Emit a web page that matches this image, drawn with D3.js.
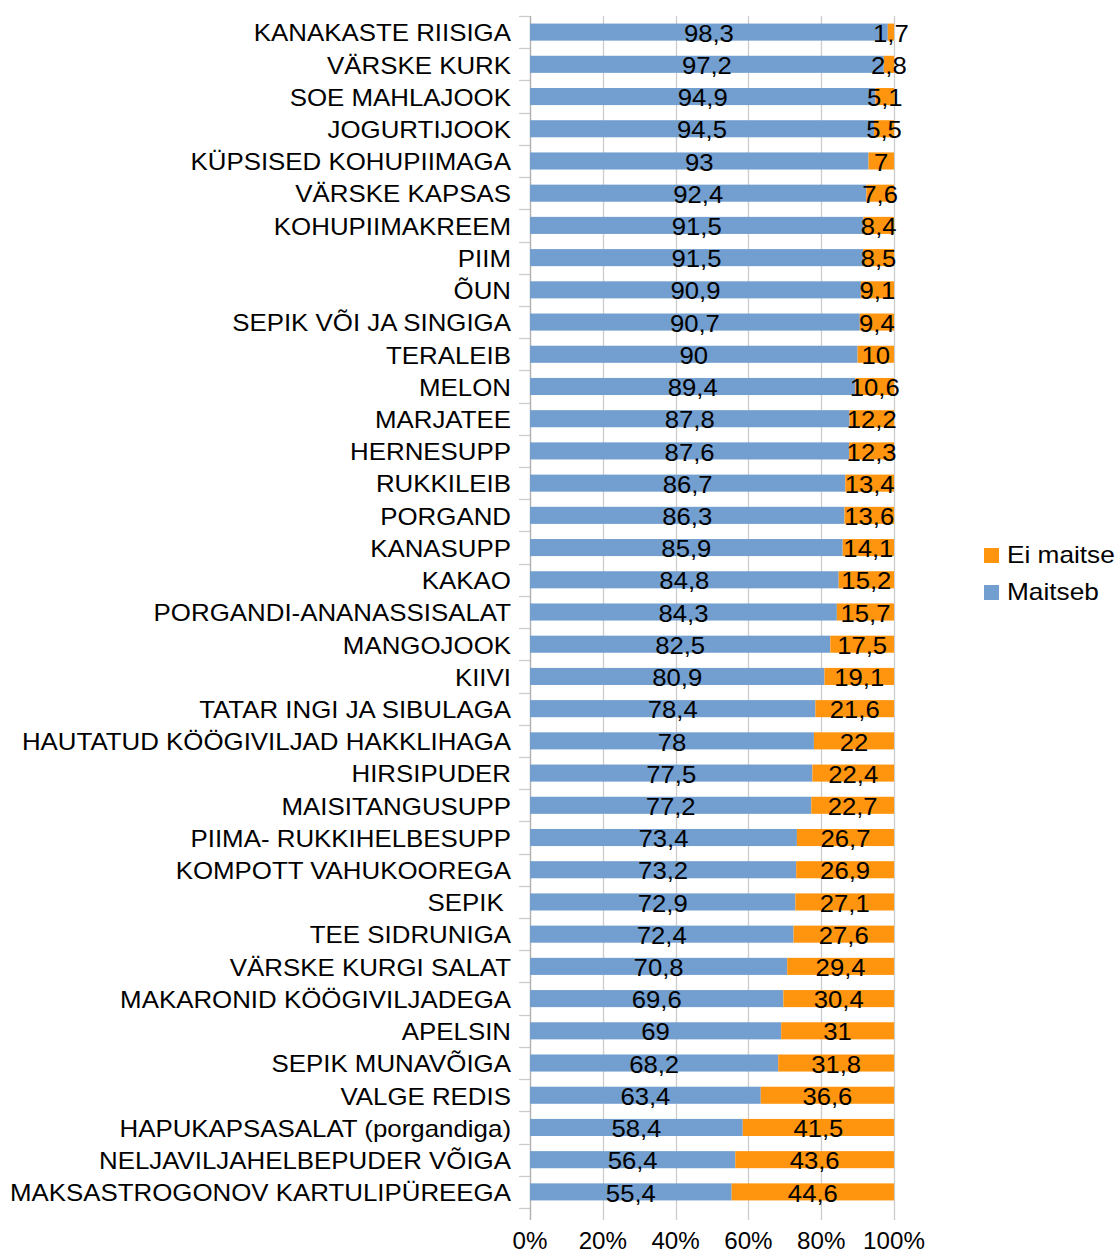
<!DOCTYPE html>
<html>
<head>
<meta charset="utf-8">
<script src="https://cdn.jsdelivr.net/npm/d3@7"></script>
<style>
  body { margin: 0; background: #fff; }
  text { font-family: "Liberation Sans", Arial, sans-serif; }
</style>
</head>
<body>
<div id="chart"></div>
<script>
// food items, top to bottom
var categories = [
  "KANAKASTE RIISIGA", "VÄRSKE KURK", "SOE MAHLAJOOK", "JOGURTIJOOK",
  "KÜPSISED KOHUPIIMAGA", "VÄRSKE KAPSAS", "KOHUPIIMAKREEM", "PIIM", "ÕUN",
  "SEPIK VÕI JA SINGIGA", "TERALEIB", "MELON", "MARJATEE", "HERNESUPP",
  "RUKKILEIB", "PORGAND", "KANASUPP", "KAKAO", "PORGANDI-ANANASSISALAT",
  "MANGOJOOK", "KIIVI", "TATAR INGI JA SIBULAGA", "HAUTATUD KÖÖGIVILJAD HAKKLIHAGA",
  "HIRSIPUDER", "MAISITANGUSUPP", "PIIMA- RUKKIHELBESUPP", "KOMPOTT VAHUKOOREGA",
  "SEPIK ", "TEE SIDRUNIGA", "VÄRSKE KURGI SALAT", "MAKARONID KÖÖGIVILJADEGA",
  "APELSIN", "SEPIK MUNAVÕIGA", "VALGE REDIS", "HAPUKAPSASALAT (porgandiga)",
  "NELJAVILJAHELBEPUDER VÕIGA", "MAKSASTROGONOV KARTULIPÜREEGA"
];

var maitseb = [98.3, 97.2, 94.9, 94.5, 93, 92.4, 91.5, 91.5, 90.9, 90.7, 90, 89.4,
  87.8, 87.6, 86.7, 86.3, 85.9, 84.8, 84.3, 82.5, 80.9, 78.4, 78, 77.5, 77.2,
  73.4, 73.2, 72.9, 72.4, 70.8, 69.6, 69, 68.2, 63.4, 58.4, 56.4, 55.4];

var eiMaitse = [1.7, 2.8, 5.1, 5.5, 7, 7.6, 8.4, 8.5, 9.1, 9.4, 10, 10.6,
  12.2, 12.3, 13.4, 13.6, 14.1, 15.2, 15.7, 17.5, 19.1, 21.6, 22, 22.4, 22.7,
  26.7, 26.9, 27.1, 27.6, 29.4, 30.4, 31, 31.8, 36.6, 41.5, 43.6, 44.6];

var seriesNames = ["Maitseb", "Ei maitse"];
var tickValues = [0, 0.2, 0.4, 0.6, 0.8, 1];

var colors = { "Maitseb": "#729fcf", "Ei maitse": "#ff950e" };

var W = 1120, H = 1253;
var plot = { left: 530, right: 894, top: 16, bottom: 1208 };

var svg = d3.select("#chart").append("svg")
    .attr("width", W)
    .attr("height", H);

var x = d3.scaleLinear().domain([0, 1]).range([plot.left, plot.right]);
var y = d3.scaleBand().domain(categories).range([plot.top, plot.bottom]).paddingInner(0.47).paddingOuter(0.235);
var yb = d3.scaleBand().domain(categories).range([plot.top, plot.bottom]);

var fmt = function(v) { return String(v).replace(".", ","); };

// the source text is drawn a bit wider than the font's natural width
function place(px, py, sx) {
  return "translate(" + px + "," + py + ") scale(" + sx + ",1)";
}

// rows -> stacked shares (percent stacked, normalised by row total)
var rows = categories.map(function(c, i) {
  return { cat: c, "Maitseb": maitseb[i], "Ei maitse": eiMaitse[i], total: maitseb[i] + eiMaitse[i] };
});
var stack = d3.stack().keys(seriesNames)
  .value(function(d, k) { return d[k] / d.total; });
var stacked = stack(rows);

// vertical grid
svg.append("g")
  .selectAll("line")
  .data(tickValues)
  .enter().append("line")
    .attr("x1", function(d) { return Math.round(x(d)) + 0.5; })
    .attr("x2", function(d) { return Math.round(x(d)) + 0.5; })
    .attr("y1", plot.top)
    .attr("y2", plot.bottom + 12)
    .style("stroke", "#cccccc")
    .style("stroke-width", 1.3);

// left axis line + category ticks
var yTicks = categories.map(function(c) { return yb(c); }).concat([plot.bottom]);
svg.append("g")
  .selectAll("line")
  .data(yTicks)
  .enter().append("line")
    .attr("x1", plot.left - 11)
    .attr("x2", plot.left)
    .attr("y1", function(d) { return Math.round(d) + 0.5; })
    .attr("y2", function(d) { return Math.round(d) + 0.5; })
    .style("stroke", "#cccccc")
    .style("stroke-width", 1.3);

svg.append("line")
  .attr("x1", plot.left + 0.5).attr("x2", plot.left + 0.5)
  .attr("y1", plot.top).attr("y2", plot.bottom + 12)
  .style("stroke", "#b3b3b3")
  .style("stroke-width", 1.3);

// bars
var layer = svg.append("g")
  .selectAll("g")
  .data(stacked)
  .enter().append("g")
    .style("fill", function(d) { return colors[d.key]; });

layer.selectAll("rect")
  .data(function(d) { return d; })
  .enter().append("rect")
    .attr("x", function(d) { return x(d[0]); })
    .attr("y", function(d) { return y(d.data.cat); })
    .attr("width", function(d) { return x(d[1]) - x(d[0]); })
    .attr("height", y.bandwidth());

// value labels
stacked.forEach(function(s) {
  svg.append("g")
    .selectAll("text")
    .data(s)
    .enter().append("text")
      .attr("transform", function(d) {
        return place((x(d[0]) + x(d[1])) / 2, y(d.data.cat) + y.bandwidth() / 2 + 1, 1.07);
      })
      .attr("dy", "0.36em")
      .attr("text-anchor", "middle")
      .style("font-size", "24px")
      .style("fill", "#000")
      .text(function(d) { return fmt(d.data[s.key]); });
});

// category labels
svg.append("g")
  .selectAll("text")
  .data(categories)
  .enter().append("text")
    .attr("transform", function(d) { return place(511, y(d) + y.bandwidth() / 2 + 1, 1.125); })
    .attr("dy", "0.36em")
    .attr("text-anchor", "end")
    .attr("xml:space", "preserve")
    .style("white-space", "pre")
    .style("font-size", "23px")
    .text(function(d) { return d; });

// x tick labels
svg.append("g")
  .selectAll("text")
  .data(tickValues)
  .enter().append("text")
    .attr("transform", function(d) { return place(x(d), plot.bottom + 33, 1.05); })
    .attr("dy", "0.36em")
    .attr("text-anchor", "middle")
    .style("font-size", "23px")
    .text(function(d) { return Math.round(d * 100) + "%"; });

// legend (reverse order as in the source)
var legend = svg.append("g")
  .selectAll("g")
  .data(seriesNames.slice().reverse())
  .enter().append("g")
    .attr("transform", function(d, i) { return "translate(984," + (555 + i * 37) + ")"; });

legend.append("rect")
  .attr("x", 0).attr("y", -7)
  .attr("width", 15).attr("height", 15)
  .style("fill", function(d) { return colors[d]; });

legend.append("text")
  .attr("transform", place(23, 0, 1.14))
  .attr("dy", "0.36em")
  .style("font-size", "23px")
  .text(function(d) { return d; });
</script>
</body>
</html>
